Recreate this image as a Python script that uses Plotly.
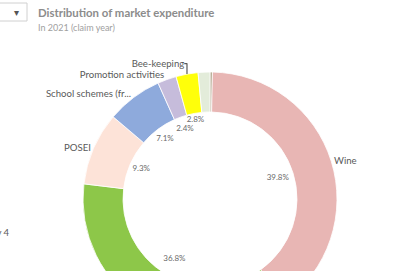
import plotly.graph_objects as go

# ---- data ----
names = ["Other (small)", "Wine", "Fruit and vegetables", "POSEI",
         "School schemes (fr...", "Promotion activities", "Bee-keeping", "Other"]
values = [0.3, 39.8, 36.8, 9.3, 7.1, 2.4, 2.8, 1.5]
show_name = [False, True, False, True, True, True, True, False]
show_pct = [False, True, True, True, True, True, True, False]
colors = ["#a59a7c", "#e8b6b4", "#8dc749", "#fde3d8",
          "#8eaadc", "#c6bcdb", "#ffff0a", "#e3ecda"]

title = "Distribution of market expenditure"
subtitle = "In 2021 (claim year)"

# ---- layout / style ----
W, H = 398, 330
cx, cy, R = 210, 199, 127
r_in = 87
pct_radius = [0, 71, 70, 75, 75, 74, 80, 0]   # distance of % labels from centre (px)
FONT = "Lato"

total = sum(values)
name_text = [n if s else "" for n, s in zip(names, show_name)]

# mid-angle of each slice in the polar axis (degrees, clockwise from 12 o'clock)
mid_theta, acc = [], 0.0
for v in values:
    mid_theta.append((acc + v / 2) / total * 360)
    acc += v

idx = [i for i, s in enumerate(show_pct) if s]
pct_text = [f"{values[i] / total * 100:.1f}%" for i in idx]


def dom(r):
    return dict(x=[(cx - r) / W, (cx + r) / W],
                y=[(H - cy - r) / H, (H - cy + r) / H])


fig = go.Figure()
fig.add_trace(go.Pie(
    labels=names, values=values, sort=False, direction="clockwise", rotation=0,
    hole=r_in / R, domain=dom(R), showlegend=False, hoverinfo="skip",
    marker=dict(colors=colors, line=dict(color="white", width=0.8)),
    text=name_text, textinfo="text", textposition="outside",
    outsidetextfont=dict(family=FONT, size=9.6, color="#595959")))

fig.add_trace(go.Scatterpolar(
    r=[pct_radius[i] for i in idx], theta=[mid_theta[i] for i in idx],
    mode="text", text=pct_text, textposition="middle center",
    textfont=dict(family=FONT, size=8, color="#6a6a6a"),
    showlegend=False, hoverinfo="skip"))

fig.update_layout(
    width=W, height=H, margin=dict(l=0, r=0, t=0, b=0),
    paper_bgcolor="white", plot_bgcolor="white",
    polar=dict(domain=dom(R), bgcolor="rgba(0,0,0,0)", hole=0,
               radialaxis=dict(range=[0, R], visible=False),
               angularaxis=dict(rotation=90, direction="clockwise", visible=False)),
    annotations=[
        dict(text=f"<b>{title}</b>", x=36 / W, y=1 - 12 / H, xref="paper", yref="paper",
             xanchor="left", yanchor="middle", showarrow=False,
             font=dict(family=FONT, size=11.4, color="#8c8c8c")),
        dict(text=subtitle, x=36 / W, y=1 - 28 / H, xref="paper", yref="paper",
             xanchor="left", yanchor="middle", showarrow=False,
             font=dict(family=FONT, size=9, color="#a0a0a0")),
        dict(text="▾", x=16 / W, y=1 - 12 / H, xref="paper", yref="paper",
             xanchor="center", yanchor="middle", showarrow=False,
             font=dict(family="DejaVu Sans", size=10, color="#555555")),
        dict(text="Category 4", x=12 / W, y=1 - 232 / H, xref="paper", yref="paper",
             xanchor="right", yanchor="middle", showarrow=False,
             font=dict(family=FONT, size=9.6, color="#595959")),
    ],
    shapes=[dict(type="rect", xref="paper", yref="paper",
                 x0=-5 / W, x1=27 / W, y0=1 - 21 / H, y1=1 - 3 / H,
                 line=dict(color="#d0d0d0", width=1), fillcolor="white", layer="below")],
)

fig.write_html("out.html", config={"displayModeBar": False},
               post_script="document.body.style.margin='0';document.body.style.overflow='hidden';")
